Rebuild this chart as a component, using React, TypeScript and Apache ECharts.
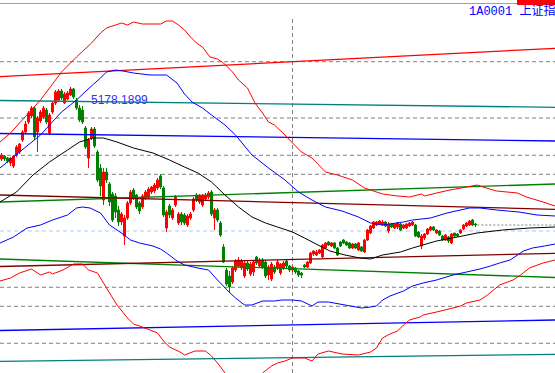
import React, { useEffect, useRef } from 'react';
import * as echarts from 'echarts';

const W = 555;
const H = 373;
const SLOTS = 185;
const PRICE_MIN = 2318;
const PRICE_MAX = 6048;

// daily candles: [open, close, low, high]
const candles: number[][] = [
  [4458, 4498, 4438, 4518], [4488, 4458, 4438, 4498], [4468, 4438, 4418, 4478], [4418, 4468, 4388, 4478],
  [4388, 4488, 4368, 4498], [4498, 4578, 4478, 4598], [4528, 4608, 4508, 4618], [4648, 4728, 4628, 4748],
  [4728, 4808, 4708, 4838], [4828, 4918, 4808, 4938], [4888, 4968, 4868, 4988], [4968, 4678, 4648, 4988],
  [4728, 4868, 4528, 4888], [4838, 4928, 4818, 4948], [4878, 4968, 4858, 4988], [4948, 4828, 4808, 4968],
  [4718, 4898, 4698, 4918], [4928, 5018, 4908, 5038], [5018, 5128, 4998, 5148], [5048, 5138, 5028, 5158],
  [5138, 5068, 5048, 5158], [5018, 5108, 5008, 5128], [5058, 5118, 5048, 5138], [5098, 5158, 5088, 5178.1899],
  [5158, 5078, 5058, 5168], [5048, 4968, 4948, 5068], [4968, 4848, 4828, 4998], [4948, 4828, 4808, 4988],
  [4768, 4578, 4558, 4788], [4468, 4648, 4368, 4668], [4668, 4758, 4648, 4778], [4758, 4588, 4568, 4778],
  [4528, 4248, 4228, 4548], [4368, 4188, 4088, 4408], [4048, 4328, 3998, 4368], [4328, 4248, 4218, 4368],
  [4208, 4028, 3988, 4228], [4108, 3848, 3828, 4128], [4088, 3928, 3868, 4118], [3948, 3828, 3788, 3988],
  [3828, 3908, 3798, 3928], [3688, 3868, 3598, 3898], [3868, 4018, 3848, 4038], [4018, 4128, 3998, 4148],
  [4148, 4068, 4048, 4168], [4098, 3978, 3958, 4108], [4018, 3938, 3908, 4038], [3978, 4088, 3958, 4108],
  [4068, 4128, 4048, 4148], [4078, 4158, 4058, 4178], [4128, 4178, 4108, 4188], [4138, 4198, 4118, 4218],
  [4168, 4248, 4148, 4268], [4288, 4178, 4158, 4308], [4168, 3898, 3878, 4188], [3768, 3928, 3728, 3948],
  [3988, 3898, 3868, 4008], [3868, 3948, 3848, 3968], [3998, 4078, 3978, 4098], [3818, 3908, 3798, 3928],
  [3908, 3828, 3798, 3928], [3898, 3818, 3798, 3918], [3798, 3888, 3778, 3908], [3868, 3908, 3848, 3928],
  [3948, 4058, 3928, 4078], [4098, 4048, 4028, 4118], [4028, 4088, 4008, 4108], [3998, 4088, 3978, 4108],
  [4058, 4098, 4038, 4118], [4078, 4118, 4058, 4138], [4128, 3908, 3888, 4148], [3868, 3948, 3748, 3968],
  [3948, 3848, 3828, 3968], [3818, 3698, 3678, 3838], [3578, 3428, 3418, 3608], [3348, 3208, 3188, 3368],
  [3288, 3178, 3128, 3338], [3228, 3368, 3208, 3388], [3348, 3438, 3328, 3458], [3388, 3448, 3368, 3478],
  [3368, 3438, 3348, 3458], [3288, 3418, 3268, 3438], [3418, 3358, 3338, 3438], [3308, 3408, 3288, 3428],
  [3328, 3428, 3288, 3448], [3478, 3418, 3398, 3488], [3388, 3448, 3368, 3468], [3448, 3378, 3358, 3468],
  [3428, 3288, 3268, 3448], [3298, 3378, 3248, 3398], [3258, 3408, 3238, 3428], [3378, 3328, 3308, 3398],
  [3368, 3428, 3348, 3448], [3318, 3408, 3298, 3418], [3368, 3418, 3348, 3438], [3438, 3388, 3368, 3448],
  [3388, 3348, 3328, 3398], [3348, 3378, 3328, 3388], [3368, 3328, 3308, 3378], [3338, 3298, 3278, 3348],
  [3318, 3298, 3268, 3328], [3398, 3378, 3368, 3408], [3378, 3428, 3368, 3438], [3418, 3518, 3408, 3528],
  [3508, 3538, 3488, 3548], [3498, 3528, 3488, 3548], [3518, 3548, 3508, 3558], [3478, 3598, 3468, 3608],
  [3568, 3618, 3558, 3628], [3628, 3598, 3588, 3638], [3588, 3618, 3578, 3628], [3618, 3568, 3558, 3628],
  [3568, 3498, 3488, 3578], [3628, 3588, 3578, 3638], [3648, 3618, 3608, 3658], [3628, 3598, 3588, 3638],
  [3618, 3568, 3558, 3628], [3568, 3608, 3558, 3618], [3608, 3568, 3558, 3618], [3548, 3618, 3538, 3628],
  [3578, 3538, 3528, 3588], [3528, 3648, 3518, 3658], [3648, 3748, 3638, 3758], [3718, 3788, 3708, 3798],
  [3768, 3828, 3758, 3838], [3798, 3828, 3788, 3838], [3808, 3838, 3798, 3848], [3798, 3828, 3788, 3848],
  [3828, 3788, 3778, 3838], [3738, 3808, 3718, 3828], [3808, 3778, 3768, 3818], [3768, 3808, 3758, 3818],
  [3778, 3818, 3758, 3828], [3808, 3748, 3738, 3818], [3768, 3798, 3758, 3808], [3768, 3808, 3758, 3818],
  [3788, 3818, 3778, 3828], [3798, 3828, 3788, 3838], [3798, 3688, 3678, 3808], [3728, 3678, 3668, 3738],
  [3588, 3688, 3558, 3708], [3668, 3708, 3648, 3718], [3708, 3758, 3698, 3768], [3748, 3778, 3738, 3788],
  [3778, 3748, 3738, 3788], [3718, 3748, 3708, 3758], [3738, 3698, 3688, 3748], [3688, 3648, 3638, 3698],
  [3648, 3698, 3638, 3708], [3678, 3638, 3618, 3688], [3618, 3708, 3608, 3718], [3718, 3688, 3678, 3718],
  [3708, 3688, 3678, 3718], [3718, 3748, 3708, 3758], [3758, 3798, 3748, 3808], [3788, 3818, 3778, 3828],
  [3798, 3838, 3788, 3848], [3848, 3798, 3788, 3858], [3808, 3798, 3778, 3818],
];

// indicator curves: [day, value]
const bollUpper: number[][] = [
  [-0.5, 4628], [3, 4718], [6, 4818], [13, 5048], [20, 5328], [25, 5478], [30, 5618], [33, 5718], [35, 5768],
  [38, 5798], [40, 5818], [42, 5798], [44, 5828], [47, 5808], [53, 5808], [55, 5838], [57, 5838], [59, 5798],
  [61, 5748], [63, 5678], [65, 5618], [67, 5578], [69.5, 5478], [72, 5458], [74, 5418], [77, 5328], [79, 5248],
  [82, 5168], [84.5, 5018], [87, 4918], [89, 4828], [91, 4798], [94.5, 4698], [97, 4618], [100, 4528],
  [103.5, 4468], [108, 4328], [112, 4298], [117, 4248], [121, 4168], [123, 4148], [127, 4108], [132, 4088],
  [136, 4078], [140, 4108], [141, 4088], [145, 4118], [149.5, 4148], [155, 4178], [158.5, 4198], [160.5, 4178],
  [165, 4138], [172, 4118], [175, 4078], [180.5, 4028], [184.5, 3988],
];
const bollLower: number[][] = [
  [-0.5, 3238], [3, 3268], [6, 3318], [10, 3358], [13, 3298], [16, 3328], [17, 3308], [20.5, 3348], [24, 3408],
  [27, 3408], [29, 3348], [32, 3318], [35, 3168], [38.5, 2998], [42, 2868], [44, 2808], [46, 2788], [49.5, 2748],
  [52, 2718], [54, 2638], [56, 2578], [59.5, 2528], [61, 2498], [64.5, 2538], [68, 2538], [70, 2488], [72, 2418],
  [74.5, 2318], [78, 2198], [83, 2168], [87, 2318], [90, 2388], [92, 2418], [94.5, 2438], [97, 2468], [101, 2468],
  [103.5, 2438], [105.5, 2508], [109, 2538], [113.5, 2508], [119, 2498], [123, 2528], [125, 2568], [127, 2668],
  [129.5, 2708], [132, 2738], [134, 2798], [136, 2848], [139.5, 2878], [140.5, 2898], [145, 2928], [150.5, 2968],
  [153, 2988], [155, 3018], [159.5, 3048], [162, 3098], [166, 3198], [170.5, 3248], [173, 3298], [176, 3368],
  [180.5, 3418], [184.5, 3448],
];
const bandUpper: number[][] = [
  [-0.5, 4368], [6, 4528], [13, 4698], [16, 4798], [20, 4928], [25, 5048], [28.5, 5148], [33, 5268], [35, 5328],
  [38, 5348], [40.5, 5338], [44, 5318], [49.5, 5298], [55, 5298], [58.5, 5218], [61, 5108], [63.5, 5028],
  [67, 4968], [70, 4898], [74.5, 4798], [78, 4698], [83.5, 4498], [89, 4368], [94.5, 4248], [99, 4128],
  [103.5, 4048], [108, 3978], [113.5, 3938], [119, 3878], [123, 3818], [127, 3798], [134, 3828], [137, 3848],
  [143, 3868], [148.5, 3918], [156, 3968], [159.5, 3968], [165, 3948], [172.5, 3928], [178.5, 3898], [184.5, 3888],
];
const bandLower: number[][] = [
  [-0.5, 3618], [4, 3678], [8.5, 3768], [13, 3798], [17, 3848], [22, 3898], [25, 3968], [27, 3978], [29.5, 3968],
  [33, 3918], [36, 3798], [39.5, 3728], [43, 3648], [46, 3618], [50.5, 3588], [53, 3558], [55, 3518], [58.5, 3438],
  [61, 3398], [65.5, 3368], [69, 3348], [72, 3248], [75.5, 3138], [78, 3068], [81, 2998], [83.5, 2998], [87, 3038],
  [91, 3038], [93.5, 3048], [97, 3048], [100, 3038], [103.5, 2988], [105.5, 3028], [109, 3028], [114.5, 2998],
  [120, 2968], [123, 2978], [125, 2988], [127, 3048], [129.5, 3088], [134, 3138], [137, 3188], [140.5, 3218],
  [145, 3248], [150.5, 3298], [155, 3328], [159.5, 3358], [163, 3388], [166, 3418], [169.5, 3448], [174, 3538],
  [177, 3568], [181, 3588], [184.5, 3608],
];
const midAverage: number[][] = [
  [-0.5, 4028], [5, 4128], [10.5, 4298], [16, 4428], [22, 4548], [26, 4628], [30.5, 4668], [34, 4668],
  [38.5, 4628], [44, 4568], [50.5, 4518], [56, 4448], [61, 4378], [65.5, 4318], [70, 4228], [74.5, 4098],
  [79, 3978], [83.5, 3878], [88, 3818], [92, 3778], [97, 3728], [101, 3668], [105.5, 3598], [109.5, 3538],
  [114.5, 3498], [119.5, 3468], [123, 3458], [127, 3498], [133, 3528], [137, 3568], [145, 3638], [152, 3678],
  [158.5, 3718], [167, 3748], [176, 3768], [184.5, 3778],
];

// straight trend lines: value at first day, value at last day
const LINE_DAYS = [-0.5, 184.5];
const trendRed = [5281, 5565];
const trendTeal = [5043, 4975];
const trendBlue = [4713, 4638];
const trendGreen = [4028, 4208];
const trendMaroon = [4098, 3955];
const trendGreen2 = [3458, 3273];
const trendMaroon2 = [3383, 3515];
const trendBlue2 = [2743, 2848];
const trendTeal2 = [2435, 2505];

// horizontal levels
const greyLevels = [5431, 4868, 4495, 4305, 3175, 2985, 2615];
const blueLevel = 3738;
const markerDay = 97;
const markerTop = 5858;

const TITLE = '1A0001 上证指';

export default function App() {
  const ref = useRef<HTMLDivElement>(null);

  useEffect(() => {
    if (!ref.current) return;
    const chart = echarts.init(ref.current, null, { renderer: 'svg' });
    const days = Array.from({ length: SLOTS }, (_, i) => String(i));
    const peakIdx = candles.reduce((b, c, i) => (c[3] > candles[b][3] ? i : b), 0);
    const lastIdx = candles.length - 1;
    const lastClose = candles[lastIdx][1];

    const line = (data: number[][], color: string, width = 1, type: any = 'solid', z = 4) => ({
      type: 'line',
      xAxisIndex: 1,
      yAxisIndex: 0,
      data,
      symbol: 'none',
      showSymbol: false,
      silent: true,
      clip: true,
      z,
      lineStyle: { color, width, type },
    });
    const seg = (v: number[]) => [[LINE_DAYS[0], v[0]], [LINE_DAYS[1], v[1]]];

    const series: any[] = [];
    greyLevels.forEach((v) => series.push(line(seg([v, v]), '#808080', 1, [4, 3], 1)));
    series.push(line(seg([blueLevel, blueLevel]), '#a6cdf0', 1, [4, 3], 1));
    series.push(line([[markerDay, markerTop], [markerDay, PRICE_MIN]], '#808080', 1, [4, 3], 1));
    series.push(line([[lastIdx + 0.6, lastClose], [LINE_DAYS[1], lastClose]], '#808080', 1, [2, 2], 1));

    series.push({
      type: 'candlestick',
      xAxisIndex: 0,
      yAxisIndex: 0,
      data: candles,
      barWidth: 1.6,
      z: 3,
      silent: true,
      itemStyle: {
        color: '#ff0000',
        color0: '#008000',
        borderColor: '#ff0000',
        borderColor0: '#008000',
        borderWidth: 1,
      },
      markPoint: {
        symbol: 'circle',
        symbolSize: 1,
        silent: true,
        itemStyle: { color: 'rgba(0,0,0,0)' },
        label: {
          show: true,
          position: 'right',
          distance: 5,
          offset: [15, 13],
          color: '#3535ee',
          fontSize: 12,
          fontFamily: '"Liberation Sans", Arial, sans-serif',
          formatter: (p: any) => Number(p.value).toFixed(4),
        },
        data: [{ coord: [days[peakIdx], candles[peakIdx][3]], value: candles[peakIdx][3] }],
      },
    });

    series.push(line(seg(trendRed), '#ff0000', 1.3));
    series.push(line(seg(trendTeal), '#008080', 1.3));
    series.push(line(seg(trendBlue), '#0000ff', 1.3));
    series.push(line(seg(trendGreen), '#008000', 1.3));
    series.push(line(seg(trendMaroon), '#800000', 1.3));
    series.push(line(seg(trendGreen2), '#008000', 1.3));
    series.push(line(seg(trendMaroon2), '#800000', 1.3));
    series.push(line(seg(trendBlue2), '#0000ff', 1.3));
    series.push(line(seg(trendTeal2), '#008080', 1.3));

    series.push(line(bollUpper, '#ff0000', 1));
    series.push(line(bollLower, '#ff0000', 1));
    series.push(line(bandUpper, '#0000ff', 1));
    series.push(line(bandLower, '#0000ff', 1));
    series.push(line(midAverage, '#000000', 1));

    chart.setOption({
      animation: false,
      backgroundColor: '#ffffff',
      grid: { left: 0, right: 0, top: 0, bottom: 0, containLabel: false },
      xAxis: [
        { type: 'category', data: days, show: false, boundaryGap: true },
        { type: 'value', min: -0.5, max: SLOTS - 0.5, show: false },
      ],
      yAxis: { type: 'value', min: PRICE_MIN, max: PRICE_MAX, show: false, splitLine: { show: false } },
      series,
      graphic: [
        {
          type: 'line',
          shape: { x1: 0, y1: 3.5, x2: W, y2: 3.5 },
          style: { stroke: '#a0a0a0', lineWidth: 1 },
          z: 10,
        },
        {
          type: 'rect',
          shape: { x: 517, y: -4, width: 40, height: 9 },
          style: { fill: '#ff0000' },
          z: 10,
        },
        {
          type: 'text',
          x: 469,
          y: 12,
          z: 10,
          style: {
            text: TITLE,
            fill: '#0000ff',
            font: '12px "Liberation Mono", "Noto Sans CJK SC", monospace',
            verticalAlign: 'middle',
            textVerticalAlign: 'middle',
          },
        },
      ],
    });
    return () => chart.dispose();
  }, []);

  return (
    <div
      ref={ref}
      style={{ position: 'absolute', left: 0, top: 0, width: W, height: H, background: '#ffffff' }}
    />
  );
}
